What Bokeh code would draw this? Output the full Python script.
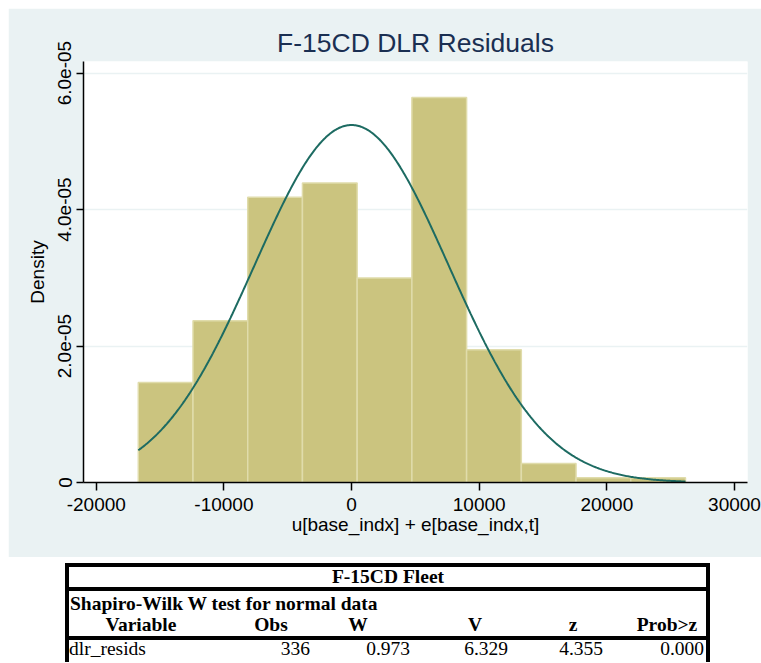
import numpy as np
from bokeh.plotting import figure
from bokeh.models import Range1d, FixedTicker, ColumnDataSource, Div
from bokeh.layouts import column
from bokeh.embed import file_html
from bokeh.resources import INLINE

# ---------------- data ----------------
bin_edges = [-16708, -12421, -8134, -3847, 440, 4727, 9014, 13301, 17588, 21875, 26162]
density = [1.466e-5, 2.371e-5, 4.179e-5, 4.389e-5, 2.996e-5, 5.641e-5, 1.946e-5, 2.79e-6, 6.9e-7, 6.9e-7]
normal_mean = 0.0
normal_sd = 7615.0
x_ticks = [-20000, -10000, 0, 10000, 20000, 30000]
x_tick_labels = ["-20000", "-10000", "0", "10000", "20000", "30000"]
y_ticks = [0, 2e-5, 4e-5, 6e-5]
y_tick_labels = ["0", "2.0e-05", "4.0e-05", "6.0e-05"]
chart_title = "F-15CD DLR Residuals"
x_label = "u[base_indx] + e[base_indx,t]"
y_label = "Density"

table_title = "F-15CD Fleet"
test_title = "Shapiro-Wilk W test for normal data"
table_headers = ["Variable", "Obs", "W", "V", "z", "Prob>z"]
table_row = ["dlr_resids", "336", "0.973", "6.329", "4.355", "0.000"]

# ---------------- styles ----------------
BG = "#EAF2F3"
BAR_FILL = "#CBC47F"
BAR_LINE = "#E0DCAB"
CURVE = "#1D6B62"
TITLE_COLOR = "#1A2F52"
SANS = "Liberation Sans"
SERIF = "Liberation Serif"

# ---------------- histogram figure ----------------
p = figure(width=753, height=549,
           x_range=Range1d(-21000, 31020), y_range=Range1d(0, 6.17e-5),
           output_backend="svg", toolbar_location=None,
           min_border_left=75, min_border_right=14,
           min_border_top=53, min_border_bottom=75)
p.background_fill_color = "white"
p.border_fill_color = BG
p.outline_line_color = None

p.title.text = chart_title
p.title.align = "center"
p.title.text_font = SANS
p.title.text_font_size = "26.5px"
p.title.text_font_style = "normal"
p.title.text_color = TITLE_COLOR
p.title.standoff = 7

bars = ColumnDataSource(dict(left=bin_edges[:-1], right=bin_edges[1:],
                             top=density, bottom=[0] * len(density)))
p.quad(left="left", right="right", top="top", bottom="bottom", source=bars,
       fill_color=BAR_FILL, line_color=BAR_LINE, line_width=1.5)

xs = np.linspace(bin_edges[0], bin_edges[-1], 500)
ys = np.exp(-0.5 * ((xs - normal_mean) / normal_sd) ** 2) / (normal_sd * np.sqrt(2 * np.pi))
p.line(xs, ys, line_color=CURVE, line_width=2)

p.xaxis.ticker = FixedTicker(ticks=x_ticks)
p.xaxis.major_label_overrides = {t: l for t, l in zip(x_ticks, x_tick_labels)}
p.yaxis.ticker = FixedTicker(ticks=y_ticks)
p.yaxis.major_label_overrides = {t: l for t, l in zip(y_ticks, y_tick_labels)}
p.yaxis.major_label_orientation = "vertical"

for ax in (p.xaxis, p.yaxis):
    ax.axis_line_color = "black"
    ax.axis_line_width = 1.5
    ax.major_tick_line_color = "black"
    ax.major_tick_line_width = 1.5
    ax.major_tick_in = 0
    ax.minor_tick_line_color = None
    ax.major_label_text_font = SANS
    ax.major_label_text_font_size = "19px"
    ax.major_label_text_color = "black"
    ax.axis_label_text_font = SANS
    ax.axis_label_text_font_size = "19px"
    ax.axis_label_text_font_style = "normal"
    ax.axis_label_text_color = "black"
p.xaxis.major_tick_out = 8
p.yaxis.major_tick_out = 7
p.xaxis.major_label_standoff = 7
p.yaxis.major_label_standoff = 5
p.xaxis.axis_label = x_label
p.yaxis.axis_label = y_label
p.xaxis.axis_label_standoff = 0
p.yaxis.axis_label_standoff = 8

p.xgrid.grid_line_color = None
p.ygrid.ticker = FixedTicker(ticks=y_ticks)
p.ygrid.grid_line_color = BG
p.ygrid.grid_line_width = 1.5

# ---------------- table (inline SVG inside a Div) ----------------
TW, TH = 753, 105
def esc(s):
    return s.replace("&", "&amp;").replace("<", "&lt;").replace(">", "&gt;")

def txt(x, y, s, anchor, bold):
    weight = "bold" if bold else "normal"
    style = (f"font-family:'{SERIF}',serif;font-size:19.5px;font-weight:{weight};"
             f"font-style:normal;fill:black;text-anchor:{anchor}")
    return f'<text x="{x}" y="{y}" style="{style}">{esc(s)}</text>'

parts = [f'<svg xmlns="http://www.w3.org/2000/svg" width="{TW}" height="{TH}" '
         f'style="display:block">']
# borders: left, right, top, two row separators
border_rects = [(57, 6, 4, TH - 6), (698, 6, 4, TH - 6), (57, 6, 645, 4),
                (57, 30, 645, 4), (57, 79, 645, 4)]
for (bx, by, bw, bh) in border_rects:
    parts.append(f'<rect x="{bx}" y="{by}" width="{bw}" height="{bh}" style="fill:black"/>')
parts.append(txt(380, 26, table_title, "middle", True))
parts.append(txt(62, 53, test_title, "start", True))
header_x = [133, 263, 350, 467, 565, 659]
for hx, h in zip(header_x, table_headers):
    parts.append(txt(hx, 74, h, "middle", True))
parts.append(txt(61, 98, table_row[0], "start", False))
value_x = [302, 402, 500, 595, 696]
for vx, v in zip(value_x, table_row[1:]):
    parts.append(txt(vx, 98, v, "end", False))
parts.append('</svg>')

table_div = Div(text="".join(parts), width=TW, height=TH,
                styles={"margin": "0", "padding": "0", "overflow": "hidden"})

layout = column(p, table_div, margin=(8, 0, 0, 8))
open("out.html", "w").write(file_html(layout, INLINE))
